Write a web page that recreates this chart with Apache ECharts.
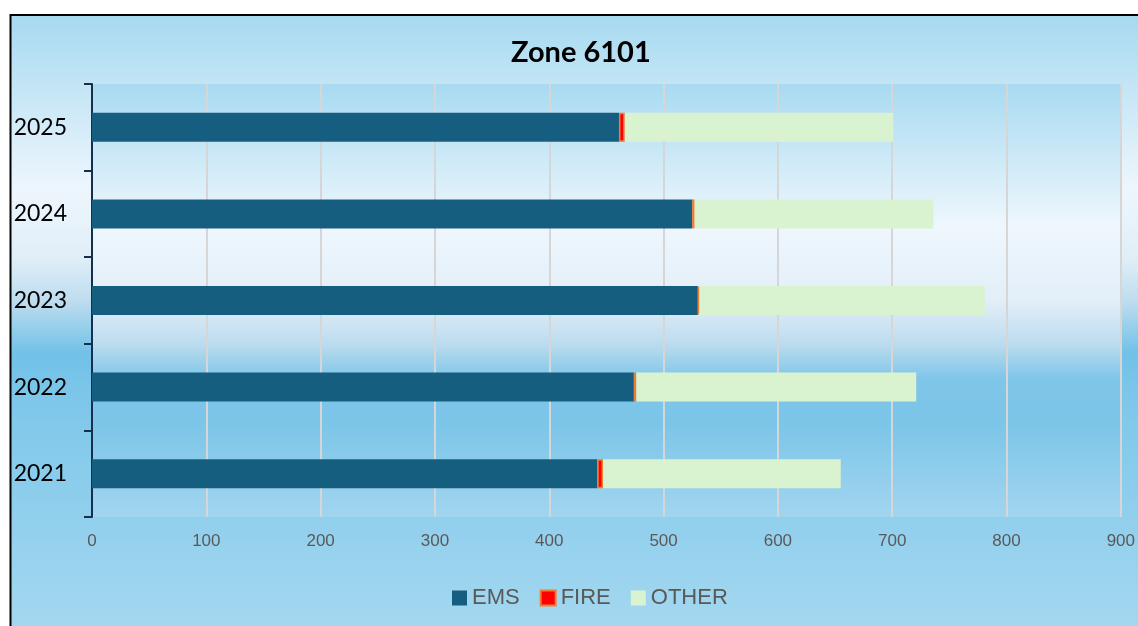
<!DOCTYPE html>
<html>
<head>
<meta charset="utf-8">
<style>
  html, body { margin: 0; padding: 0; background: #ffffff; }
  #main { width: 1138px; height: 626px; }
</style>
<script src="https://cdn.jsdelivr.net/npm/echarts@6/dist/echarts.min.js"></script>
</head>
<body>
<div id="main"></div>
<script>
const years = ['2021', '2022', '2023', '2024', '2025'];
const ems = [442, 474, 530, 525, 461];
const fire = [5, 2, 1, 2, 5];
const other = [208, 245, 250, 209, 235];
const xTicks = [0, 100, 200, 300, 400, 500, 600, 700, 800, 900];

const dom = document.getElementById('main');
const myChart = echarts.init(dom);

function gradient(stops) {
  return new echarts.graphic.LinearGradient(0, 0, 0, 1,
    stops.map(([offset, color]) => ({ offset, color })));
}

const outerBg = gradient([
  [0, '#a6d9f0'], [0.28, '#eef6fd'], [0.39, '#e0eef8'], [0.46, '#bcdcee'],
  [0.54, '#72c1e8'], [0.62, '#7ec7ea'], [1, '#a6d8f0'],
]);
const plotBg = gradient([
  [0, '#a8daf1'], [0.33, '#eff7fd'], [0.5, '#e2eef8'], [0.6, '#bcdcee'],
  [0.68, '#7fc6e9'], [0.78, '#7bc5e8'], [1, '#a2d5ef'],
]);

const options = {
  backgroundColor: '#ffffff',
  animation: false,
  graphic: [
    {
      type: 'rect',
      z: -10,
      silent: true,
      shape: { x: 10.5, y: 15, width: 1140, height: 625 },
      style: { fill: outerBg, stroke: '#000000', lineWidth: 2 },
    },
  ],
  title: {
    text: 'Zone 6101',
    left: 506,
    top: 33,
    textStyle: { fontFamily: 'Lato', fontWeight: 'bold', fontSize: 29, color: '#000000' },
  },
  legend: {
    data: ['EMS', 'FIRE', 'OTHER'],
    left: 447,
    top: 582,
    itemWidth: 15,
    itemHeight: 15,
    itemGap: 20,
    icon: 'rect',
    textStyle: { fontFamily: 'Liberation Sans', fontSize: 22, color: '#595959' },
  },
  grid: {
    left: 92,
    right: 16,
    top: 84,
    bottom: 109,
    show: true,
    backgroundColor: plotBg,
    borderWidth: 0,
  },
  xAxis: {
    type: 'value',
    min: xTicks[0],
    max: xTicks[xTicks.length - 1],
    interval: 100,
    axisLine: { show: false },
    axisTick: { show: false },
    axisLabel: { margin: 16, fontFamily: 'Liberation Sans', fontSize: 17, color: '#595959' },
    splitLine: { lineStyle: { color: '#d6d6d6', width: 2 } },
  },
  yAxis: {
    type: 'category',
    data: years,
    axisLine: { lineStyle: { color: '#15304f', width: 2 } },
    axisTick: { show: true, length: 8, lineStyle: { color: '#15304f', width: 2 } },
    axisLabel: { margin: 25, fontFamily: 'Lato', fontSize: 23, color: '#000000' },
  },
  series: [
    {
      name: 'EMS',
      type: 'bar',
      stack: 'total',
      barWidth: 29,
      data: ems,
      itemStyle: { color: '#165e80' },
    },
    {
      name: 'FIRE',
      type: 'bar',
      stack: 'total',
      barWidth: 29,
      z: 3,
      data: fire,
      itemStyle: { color: '#ff0000', borderColor: '#ed7d31', borderWidth: 1.5 },
    },
    {
      name: 'OTHER',
      type: 'bar',
      stack: 'total',
      barWidth: 29,
      data: other,
      itemStyle: { color: '#d9f2d0' },
    },
  ],
};

myChart.setOption(options);
</script>
</body>
</html>
